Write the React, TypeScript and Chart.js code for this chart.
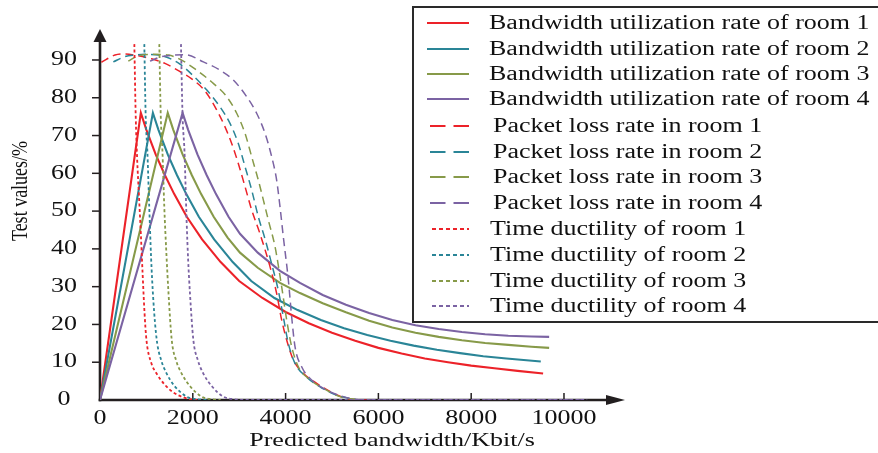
import { useEffect, useRef } from 'react';
import { Chart, registerables } from 'chart.js';

Chart.register(...registerables);

// ---------------- DATA ----------------
const xTicks = [0, 2000, 4000, 6000, 8000, 10000];
const yTicks = [0, 10, 20, 30, 40, 50, 60, 70, 80, 90];
const xAxisTitle = 'Predicted bandwidth/Kbit/s';
const yAxisTitle = 'Test values/%';

const legendLabels = [
  'Bandwidth utilization rate of room 1',
  'Bandwidth utilization rate of room 2',
  'Bandwidth utilization rate of room 3',
  'Bandwidth utilization rate of room 4',
  'Packet loss rate in room 1',
  'Packet loss rate in room 2',
  'Packet loss rate in room 3',
  'Packet loss rate in room 4',
  'Time ductility of room 1',
  'Time ductility of room 2',
  'Time ductility of room 3',
  'Time ductility of room 4',
];

// Bandwidth utilization (solid)
const bwRoom1: [number, number][] = [
  [0, 0], [880, 76], [1000, 71.5], [1200, 65], [1400, 59.5], [1600, 54.5], [1870, 48.5], [2200, 42.5],
  [2600, 36.5], [3000, 31.5], [3500, 27], [4000, 23.3], [4500, 20.3], [5000, 17.8], [5500, 15.7],
  [6000, 13.8], [6500, 12.3], [7000, 11], [7500, 10], [8000, 9.1], [8500, 8.4], [9000, 7.7], [9550, 7],
];
const bwRoom2: [number, number][] = [
  [0, 0], [1140, 76], [1260, 71.5], [1460, 65], [1660, 59.5], [1860, 54.5], [2130, 48.5], [2460, 42.5],
  [2860, 36.5], [3260, 31.5], [3760, 27], [4260, 23.8], [4760, 21.2], [5260, 19], [5760, 17.2],
  [6260, 15.7], [6760, 14.4], [7260, 13.3], [7760, 12.4], [8260, 11.6], [8760, 11], [9500, 10.2],
];
const bwRoom3: [number, number][] = [
  [0, 0], [1460, 76], [1580, 71.5], [1780, 65], [1980, 59.5], [2180, 54.5], [2450, 48.5], [2750, 43],
  [3017, 39], [3400, 35], [3879, 31], [4310, 28.3], [4800, 25.6], [5300, 23.2], [5800, 21], [6300, 19.2],
  [6800, 17.8], [7300, 16.7], [7800, 15.8], [8300, 15.1], [8800, 14.6], [9300, 14.1], [9680, 13.8],
];
const bwRoom4: [number, number][] = [
  [0, 0], [1780, 76], [1900, 71.5], [2100, 65], [2300, 59.5], [2500, 54.5], [2770, 48.5], [3017, 44],
  [3400, 39], [3879, 34.2], [4310, 31], [4800, 27.8], [5300, 25.2], [5800, 23], [6300, 21.2], [6800, 19.8],
  [7300, 18.8], [7800, 18], [8300, 17.4], [8800, 17], [9300, 16.8], [9680, 16.7],
];

// Packet loss rate (dashed)
const plRoom1: [number, number][] = [
  [30, 89.4], [323, 91.3], [539, 91.6], [826, 91.1], [1113, 90.3], [1400, 89.1], [1700, 87.1],
  [1976, 85], [2263, 81.8], [2514, 76.8], [2694, 72.3], [2838, 67.9], [2981, 62.6], [3125, 56.5],
  [3269, 50.3], [3448, 44], [3664, 35.3], [3807, 28.2], [3915, 21.2], [4023, 15.9], [4167, 10.6],
  [4382, 7.1], [4670, 4.4], [5029, 1.8], [5388, 0.2], [5750, 0],
];
const plRoom2: [number, number][] = [
  [287, 89.5], [539, 90.9], [754, 91.3], [970, 91.5], [1257, 91.3], [1545, 90.2], [1724, 88.9],
  [2011, 85.8], [2298, 82.1], [2586, 77.6], [2802, 73.2], [2981, 67.9], [3125, 61.8], [3269, 55.6],
  [3412, 48.5], [3560, 42.5], [3700, 36], [3843, 29], [3951, 22], [4059, 15], [4203, 9.7],
  [4440, 6.2], [4741, 3.5], [5100, 1.3], [5532, 0],
];
const plRoom3: [number, number][] = [
  [610, 89.7], [826, 91.1], [1185, 91.5], [1473, 91.3], [1724, 90.2], [2083, 87.3], [2442, 83.8],
  [2730, 80.3], [2946, 75.9], [3125, 70.6], [3269, 64.4], [3412, 58.2], [3556, 51.2], [3628, 47.6],
  [3772, 40.6], [3915, 30], [4023, 21.2], [4131, 14.1], [4275, 8.8], [4490, 5.7], [4813, 3.1],
  [5172, 0.9], [5603, 0],
];
const plRoom4: [number, number][] = [
  [1078, 89.7], [1329, 90.9], [1616, 91.3], [1832, 91.4], [2227, 89.5], [2586, 87.3], [2873, 84.7],
  [3160, 80.3], [3376, 75.9], [3556, 70.6], [3700, 64.4], [3807, 58.2], [3879, 51.2], [3951, 43.2],
  [4059, 31.8], [4131, 22], [4203, 14.1], [4346, 8.8], [4562, 5.3], [4885, 2.6], [5244, 0.9],
  [5675, 0], [10500, 0],
];

// Time ductility (dotted)
const tdRoom1: [number, number][] = [
  [740, 94.2], [770, 75], [800, 64], [840, 54], [880, 44], [920, 33], [960, 23], [1000, 16],
  [1100, 10], [1220, 7], [1400, 4], [1580, 2], [1800, 0.7], [2000, 0.1], [2150, 0],
];
const tdRoom2: [number, number][] = [
  [955, 94.2], [985, 75], [1020, 66], [1062, 51], [1100, 38], [1149, 26.5], [1222, 16], [1320, 10.5],
  [1437, 7], [1600, 3.8], [1868, 0.9], [2100, 0.2], [2300, 0],
];
const tdRoom3: [number, number][] = [
  [1278, 94.2], [1310, 75], [1345, 66], [1386, 51], [1430, 39], [1473, 29], [1545, 16], [1640, 10.5],
  [1760, 7], [1950, 3.5], [2192, 0.9], [2400, 0.2], [2600, 0],
];
const tdRoom4: [number, number][] = [
  [1745, 94.2], [1780, 75], [1820, 66], [1868, 47], [1900, 37], [1940, 28], [2011, 16], [2110, 10.5],
  [2227, 7], [2420, 3.5], [2657, 0.9], [2900, 0.2], [3100, 0], [10500, 0],
];

// ---------------- STYLE ----------------
const RED = '#ec2229';
const TEAL = '#2a8597';
const OLIVE = '#879a49';
const PURPLE = '#7b63a3';
const INK = '#231f20';
const FONT = "'Liberation Serif', 'Times New Roman', serif";
const SX = 1.3;

const seriesData = [bwRoom1, bwRoom2, bwRoom3, bwRoom4, plRoom1, plRoom2, plRoom3, plRoom4, tdRoom1, tdRoom2, tdRoom3, tdRoom4];
const seriesColors = [RED, TEAL, OLIVE, PURPLE, RED, TEAL, OLIVE, PURPLE, RED, TEAL, OLIVE, PURPLE];
const seriesKinds = ['solid', 'solid', 'solid', 'solid', 'dash', 'dash', 'dash', 'dash', 'dot', 'dot', 'dot', 'dot'];
const DASH = [8, 5];
const DOT = [3, 2.5];

function drawText(ctx: CanvasRenderingContext2D, text: string, x: number, y: number, align: CanvasTextAlign, size: number, sx = SX) {
  ctx.save();
  ctx.translate(x, y);
  ctx.scale(sx, 1);
  ctx.font = `${size}px ${FONT}`;
  ctx.textAlign = align;
  ctx.textBaseline = 'middle';
  ctx.fillText(text, 0, 0);
  ctx.restore();
}

const axesPlugin = {
  id: 'customAxes',
  beforeDatasetsDraw(chart: any) {
    const { ctx, chartArea, scales } = chart;
    const xs = scales.x;
    const ys = scales.y;
    const x0 = xs.getPixelForValue(0);
    const y0 = ys.getPixelForValue(0);
    const top = chartArea.top;
    const right = chartArea.right;
    ctx.save();
    ctx.setLineDash([]);
    ctx.strokeStyle = INK;
    ctx.fillStyle = INK;
    ctx.lineWidth = 2.6;
    ctx.beginPath();
    ctx.moveTo(x0, y0 + 1.3);
    ctx.lineTo(x0, top + 10);
    ctx.stroke();
    ctx.beginPath();
    ctx.moveTo(x0, top);
    ctx.lineTo(x0 - 6.5, top + 13);
    ctx.lineTo(x0 + 6.5, top + 13);
    ctx.closePath();
    ctx.fill();
    ctx.beginPath();
    ctx.moveTo(x0 - 1.3, y0);
    ctx.lineTo(right - 14, y0);
    ctx.stroke();
    ctx.beginPath();
    ctx.moveTo(right, y0);
    ctx.lineTo(right - 19, y0 - 5);
    ctx.lineTo(right - 19, y0 + 5);
    ctx.closePath();
    ctx.fill();

    ctx.lineWidth = 1.5;
    yTicks.forEach((v) => {
      if (v === 0) return;
      const py = ys.getPixelForValue(v);
      ctx.beginPath();
      ctx.moveTo(x0 - 8, py);
      ctx.lineTo(x0, py);
      ctx.stroke();
    });
    xTicks.forEach((v) => {
      if (v === 0) return;
      const px = xs.getPixelForValue(v);
      ctx.beginPath();
      ctx.moveTo(px, y0);
      ctx.lineTo(px, y0 - 7);
      ctx.stroke();
    });

    ctx.fillStyle = '#111';
    yTicks.forEach((v) => {
      drawText(ctx, String(v), x0 - 36, ys.getPixelForValue(v), 'center', 20);
    });
    xTicks.forEach((v) => {
      drawText(ctx, String(v), xs.getPixelForValue(v), y0 + 19, 'center', 20);
    });
    drawText(ctx, xAxisTitle, 392, 441, 'center', 19, 1.37);

    ctx.save();
    ctx.translate(21, 191);
    ctx.rotate(-Math.PI / 2);
    ctx.scale(1, 1.3);
    ctx.font = `18px ${FONT}`;
    ctx.textAlign = 'center';
    ctx.textBaseline = 'middle';
    ctx.fillText(yAxisTitle, 0, 0);
    ctx.restore();
    ctx.restore();
  },
};

const legendRowsY = [23, 49, 74, 99, 126, 152, 177, 203, 229, 255, 281, 306];

const legendPlugin = {
  id: 'customLegend',
  afterDatasetsDraw(chart: any) {
    const { ctx } = chart;
    ctx.save();
    ctx.setLineDash([]);
    ctx.fillStyle = '#ffffff';
    ctx.fillRect(413, 7, 480, 315);
    ctx.strokeStyle = '#2a2a2a';
    ctx.lineWidth = 2;
    ctx.strokeRect(413, 7, 480, 315);
    chart.data.datasets.forEach((ds: any, i: number) => {
      const y = legendRowsY[i];
      const kind = ds.seriesKind;
      ctx.save();
      ctx.strokeStyle = ds.borderColor;
      let x1 = 427;
      let tx = 489;
      if (kind === 'solid') {
        ctx.lineWidth = 2.2;
        ctx.setLineDash([]);
      } else if (kind === 'dash') {
        ctx.lineWidth = 1.8;
        ctx.setLineDash([15.5, 8]);
        x1 = 430;
        tx = 493;
      } else {
        ctx.lineWidth = 2;
        ctx.setLineDash([4, 3]);
        x1 = 432;
        tx = 490;
      }
      ctx.beginPath();
      ctx.moveTo(x1, y);
      ctx.lineTo(469, y);
      ctx.stroke();
      ctx.restore();
      ctx.fillStyle = '#111';
      drawText(ctx, ds.label, tx, y + 1, 'left', 20);
    });
    ctx.restore();
  },
};

export default function App() {
  const canvasRef = useRef<HTMLCanvasElement | null>(null);

  useEffect(() => {
    if (!canvasRef.current) return;
    const datasets = seriesData.map((pts, i) => {
      const kind = seriesKinds[i];
      const dash = kind === 'solid' ? [] : kind === 'dash' ? DASH : DOT;
      return {
        label: legendLabels[i],
        data: pts.map(([x, y]) => ({ x, y })),
        borderColor: seriesColors[i],
        backgroundColor: seriesColors[i],
        borderWidth: kind === 'solid' ? 2.1 : kind === 'dash' ? 1.5 : 1.8,
        borderDash: dash,
        borderCapStyle: 'butt',
        pointRadius: 0,
        fill: false,
        tension: kind === 'solid' ? 0 : 0.4,
        cubicInterpolationMode: kind === 'solid' ? 'default' : 'monotone',
        order: 12 - i,
        seriesKind: kind,
      };
    });
    const chart = new Chart(canvasRef.current, {
      type: 'line',
      data: { datasets } as any,
      options: {
        animation: false,
        responsive: false,
        devicePixelRatio: 1,
        parsing: false as any,
        layout: { padding: { left: 100, right: 253, top: 29, bottom: 53 } },
        scales: {
          x: { type: 'linear', min: 0, max: 11315, display: false },
          y: { type: 'linear', min: 0, max: 98.2, display: false },
        },
        plugins: {
          legend: { display: false },
          tooltip: { enabled: false },
        },
        events: [],
      },
      plugins: [axesPlugin, legendPlugin],
    });
    return () => chart.destroy();
  }, []);

  return (
    <div style={{ position: 'absolute', left: 0, top: 0, width: 878, height: 453, background: '#fff' }}>
      <canvas ref={canvasRef} width={878} height={453} style={{ width: 878, height: 453, display: 'block' }} />
    </div>
  );
}
